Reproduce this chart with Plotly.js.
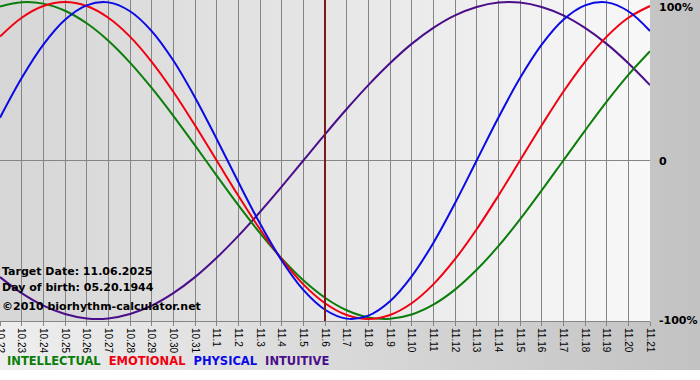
<!DOCTYPE html>
<html>
<head>
<meta charset="utf-8">
<script src="https://cdn.plot.ly/plotly-3.0.1.min.js"></script>
<style>
  html, body { margin: 0; padding: 0; background: #ffffff; }
  #wrap { position: relative; width: 700px; height: 380px; overflow: hidden; background: #ffffff; }
  #outerbg { position: absolute; left: 0; top: 0; width: 700px; height: 370px;
             background: linear-gradient(to right, #eeeeee 0%, #d4d4d4 60%, #c2c2c2 100%); }
  #plotbg { position: absolute; left: 0; top: 0; width: 650px; height: 321px;
            background: linear-gradient(to right, #d6d6d6 0%, #e6e6e6 50%, #f8f8f8 100%); }
  #chart { position: absolute; left: 0; top: 0; width: 700px; height: 380px; }
</style>
</head>
<body>
<div id="wrap">
  <div id="outerbg"></div>
  <div id="plotbg"></div>
  <div id="chart"></div>
</div>
<script>
// Dates shown on the x axis
var dates = ["10.22","10.23","10.24","10.25","10.26","10.27","10.28","10.29","10.30","10.31",
             "11.1","11.2","11.3","11.4","11.5","11.6","11.7","11.8","11.9","11.10",
             "11.11","11.12","11.13","11.14","11.15","11.16","11.17","11.18","11.19","11.20","11.21"];
var targetDate = "11.6";

// Biorhythm values (%), one per day
var physical = [27.0, 52.0, 73.1, 88.8, 97.9, 99.8, 94.2, 81.7, 63.1, 39.8, 13.6, -13.6, -39.8, -63.1, -81.7, -94.2,
                -99.8, -97.9, -88.8, -73.1, -52.0, -27.0, 0, 27.0, 52.0, 73.1, 88.8, 97.9, 99.8, 94.2, 81.7];
var emotional = [78.2, 90.1, 97.5, 100, 97.5, 90.1, 78.2, 62.3, 43.4, 22.2, 0, -22.2, -43.4, -62.3, -78.2, -90.1,
                 -97.5, -100, -97.5, -90.1, -78.2, -62.3, -43.4, -22.2, 0, 22.2, 43.4, 62.3, 78.2, 90.1, 97.5];
var intellectual = [97.2, 99.9, 99.0, 94.5, 86.6, 75.6, 61.8, 45.8, 28.2, 9.5, -9.5, -28.2, -45.8, -61.8, -75.6, -86.6,
                    -94.5, -99.0, -99.9, -97.2, -91.0, -81.5, -69.0, -54.1, -37.2, -18.9, 0, 18.9, 37.2, 54.1, 69.0];
var intuitive = [-73.6, -83.7, -91.6, -96.9, -99.7, -99.7, -96.9, -91.6, -83.7, -73.6, -61.4, -47.6, -32.5, -16.5, 0, 16.5,
                 32.5, 47.6, 61.4, 73.6, 83.7, 91.6, 96.9, 99.7, 99.7, 96.9, 91.6, 83.7, 73.6, 61.4, 47.6];

var seriesNames = ["INTELLECTUAL", "EMOTIONAL", "PHYSICAL", "INTUITIVE"];
var seriesColors = ["#0a7d0a", "#f00010", "#0a0ae6", "#4a0e8a"];
var yTickVals = [100, 0, -100];
var yTickText = ["100%", "0", "-100%"];
var infoLines = ["Target Date: 11.06.2025", "Day of birth: 05.20.1944", "\u00a92010 biorhythm-calculator.net"];

var seriesData = [intellectual, emotional, physical, intuitive];
var traces = [];
var order = [3, 0, 1, 2];
order.forEach(function (i) {
  traces.push({
    type: "scatter", mode: "lines", x: dates, y: seriesData[i], name: seriesNames[i],
    line: { color: seriesColors[i], width: 2, shape: "spline", smoothing: 1.0 },
    hoverinfo: "skip", showlegend: false
  });
});

var annotations = [];
var infoY = [0.153, 0.103, 0.044];
infoLines.forEach(function (t, k) {
  annotations.push({ xref: "paper", yref: "paper", x: 0, y: infoY[k], xanchor: "left", yanchor: "middle",
    text: "<b>" + t + "</b>", showarrow: false,
    font: { family: "DejaVu Sans", size: 11, color: "#000000" } });
});
var yShift = [3, -1, -2];
var yAnch = ["top", "middle", "middle"];
yTickVals.forEach(function (v, k) {
  annotations.push({ xref: "paper", yref: "y", x: 1, y: v, xanchor: "left", yanchor: yAnch[k], xshift: 7, yshift: yShift[k],
    text: "<b>" + yTickText[k] + "</b>", showarrow: false,
    font: { family: "DejaVu Sans", size: 11, color: "#000000" } });
});
var legendText = seriesNames.map(function (n, i) {
  return "<span style='color:" + seriesColors[i] + "'>" + n + "</span>";
}).join("&nbsp;&nbsp;");
annotations.push({ xref: "paper", yref: "paper", x: 0.008, y: -0.125, xanchor: "left", yanchor: "middle",
  text: "<b>" + legendText + "</b>", showarrow: false,
  font: { family: "DejaVu Sans", size: 11.5, color: "#000000" } });

var layout = {
  width: 700, height: 380,
  margin: { l: 0, r: 50, t: 0, b: 59, pad: 0 },
  paper_bgcolor: "rgba(0,0,0,0)",
  plot_bgcolor: "rgba(0,0,0,0)",
  showlegend: false,
  xaxis: {
    type: "category", range: [0, dates.length - 1],
    showgrid: true, gridcolor: "#858585", gridwidth: 1,
    showline: true, linecolor: "#858585", linewidth: 1,
    ticks: "outside", ticklen: 4, tickcolor: "#858585",
    tickangle: 90, tickfont: { family: "Liberation Sans", size: 10, color: "#000000" },
    fixedrange: true, zeroline: false
  },
  yaxis: {
    range: [-101.3, 101.3], showgrid: false, showticklabels: false, ticks: "",
    zeroline: true, zerolinecolor: "#858585", zerolinewidth: 1,
    fixedrange: true
  },
  shapes: [{
    type: "line", xref: "x", yref: "paper",
    x0: dates.indexOf(targetDate), x1: dates.indexOf(targetDate), y0: 0, y1: 1,
    line: { color: "#7a1c1c", width: 2 }
  }],
  annotations: annotations
};

Plotly.newPlot("chart", traces, layout, { displayModeBar: false, staticPlot: true });
</script>
</body>
</html>
